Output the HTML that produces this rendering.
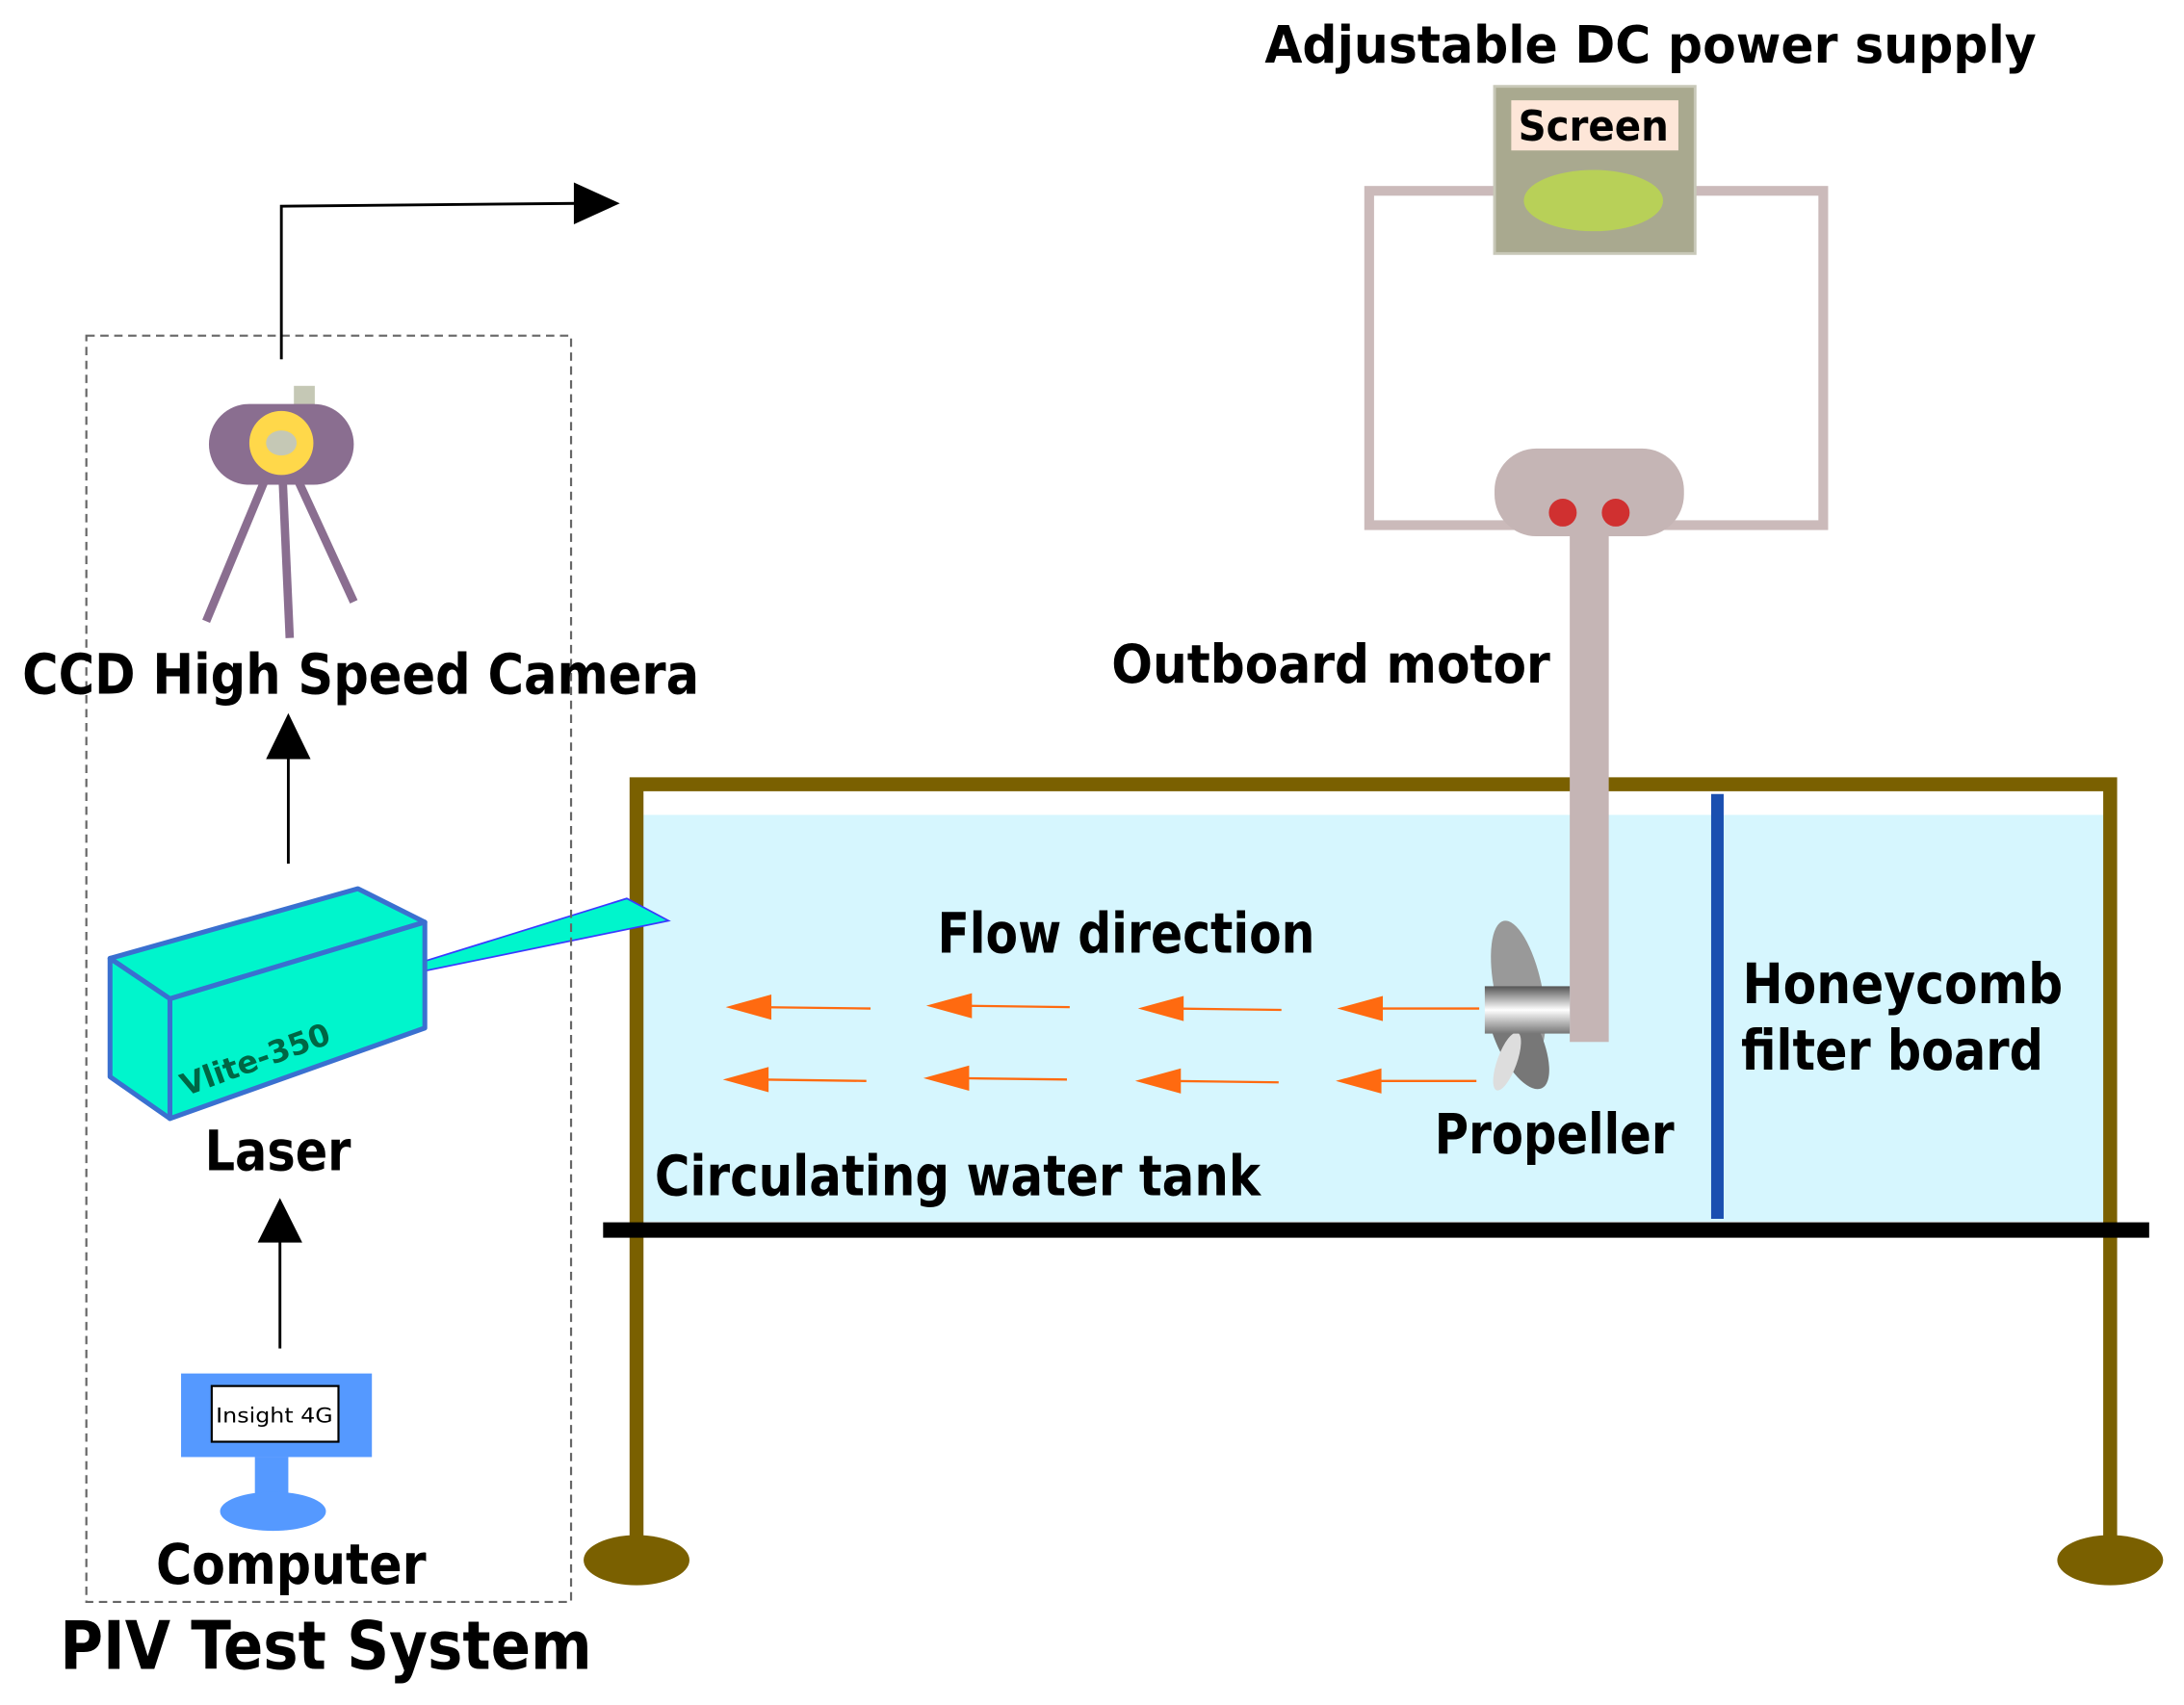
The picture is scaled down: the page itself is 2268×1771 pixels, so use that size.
<!DOCTYPE html>
<html><head><meta charset="utf-8"><style>html,body{margin:0;padding:0;background:#fff}svg{display:block}</style></head>
<body>
<svg width="2268" height="1771" viewBox="0 0 1568 1224" preserveAspectRatio="none" xmlns="http://www.w3.org/2000/svg" font-family="'DejaVu Sans','Liberation Sans',sans-serif">
<rect width="1568" height="1224" fill="#fff"/>
<!-- power supply -->
<text x="908" y="45" font-size="37" font-weight="bold" textLength="554" lengthAdjust="spacingAndGlyphs">Adjustable DC power supply</text>
<rect x="983" y="137" width="326" height="240" fill="none" stroke="#cbbaba" stroke-width="7"/>
<rect x="1073" y="62" width="144" height="120" fill="#a9a98f" stroke="#c8c8b8" stroke-width="2"/>
<rect x="1085" y="72" width="120" height="36" fill="#fde6d8"/>
<text x="1090" y="101" font-size="30" font-weight="bold" textLength="108" lengthAdjust="spacingAndGlyphs">Screen</text>
<ellipse cx="1144" cy="144" rx="50" ry="22" fill="#b8d058"/>
<text x="798" y="490" font-size="38" font-weight="bold" textLength="315" lengthAdjust="spacingAndGlyphs">Outboard motor</text>
<!-- tank -->
<rect x="462" y="585" width="1048" height="292" fill="#d6f6fe"/>
<path d="M457 1115 V563 H1515 V1115" fill="none" stroke="#7a6000" stroke-width="10"/>
<ellipse cx="457" cy="1120" rx="38" ry="18" fill="#7a6000"/>
<ellipse cx="1515" cy="1120" rx="38" ry="18" fill="#7a6000"/>
<rect x="1127" y="380" width="28" height="368" fill="#c5b5b5"/>
<rect x="1073" y="322" width="136" height="63" rx="30" fill="#c5b5b5"/>
<circle cx="1122" cy="368" r="10" fill="#d03030"/>
<circle cx="1160" cy="368" r="10" fill="#d03030"/>
<line x1="433" y1="883" x2="1543" y2="883" stroke="#000" stroke-width="11"/>
<line x1="1233" y1="570" x2="1233" y2="875" stroke="#1a4fb0" stroke-width="9"/>
<text x="1251" y="720" font-size="40" font-weight="bold" textLength="230" lengthAdjust="spacingAndGlyphs">Honeycomb</text>
<text x="1250" y="768" font-size="40" font-weight="bold" textLength="217" lengthAdjust="spacingAndGlyphs">filter board</text>
<text x="673" y="684" font-size="40" font-weight="bold" textLength="271" lengthAdjust="spacingAndGlyphs">Flow direction</text>
<text x="1030" y="828" font-size="40" font-weight="bold" textLength="172" lengthAdjust="spacingAndGlyphs">Propeller</text>
<text x="470" y="858" font-size="40" font-weight="bold" textLength="435" lengthAdjust="spacingAndGlyphs">Circulating water tank</text>
<g stroke="#ff6a10" stroke-width="1.6" fill="#ff6a10">
<line x1="625" y1="724" x2="545" y2="723"/><polygon points="524,723 553,715 553,731"/>
<line x1="768" y1="723" x2="690" y2="722"/><polygon points="668,722 697,714 697,730"/>
<line x1="920" y1="725" x2="842" y2="724"/><polygon points="820,724 849,716 849,732"/>
<line x1="1062" y1="724" x2="985" y2="724"/><polygon points="963,724 992,716 992,732"/>
<line x1="622" y1="776" x2="545" y2="775"/><polygon points="522,775 551,767 551,783"/>
<line x1="766" y1="775" x2="688" y2="774"/><polygon points="666,774 695,766 695,782"/>
<line x1="918" y1="777" x2="840" y2="776"/><polygon points="818,776 847,768 847,784"/>
<line x1="1060" y1="776" x2="985" y2="776"/><polygon points="962,776 991,768 991,784"/>
</g>
<!-- propeller -->
<defs><linearGradient id="pg" x1="0" y1="0" x2="0" y2="1"><stop offset="0" stop-color="#555"/><stop offset="0.5" stop-color="#fff"/><stop offset="1" stop-color="#777"/></linearGradient></defs>
<ellipse cx="1090" cy="710" rx="17" ry="50" fill="#999" transform="rotate(-12 1090 710)"/>
<ellipse cx="1090" cy="745" rx="16" ry="40" fill="#777" transform="rotate(-25 1090 745)"/>
<ellipse cx="1082" cy="762" rx="7" ry="22" fill="#ddd" transform="rotate(20 1082 762)"/>
<rect x="1066" y="708" width="61" height="34" fill="url(#pg)"/>
<!-- laser -->
<polygon points="305,690 450,645 480,661 305,697" fill="#00f5cc" stroke="#3a3aff" stroke-width="1.2"/>
<polygon points="79,688 257,638 305,662 122,717" fill="#00f5cc" stroke="#3a70d0" stroke-width="3.5" stroke-linejoin="round"/>
<polygon points="122,717 305,662 305,738 122,803" fill="#00f5cc" stroke="#3a70d0" stroke-width="3.5" stroke-linejoin="round"/>
<polygon points="79,688 122,717 122,803 79,773" fill="#00f5cc" stroke="#3a70d0" stroke-width="3.5" stroke-linejoin="round"/>
<text x="133" y="787" font-size="22" font-weight="bold" fill="#064" transform="rotate(-20 133 787)">Vlite-350</text>
<text x="147" y="840" font-size="40" font-weight="bold" textLength="105" lengthAdjust="spacingAndGlyphs">Laser</text>
<!-- dashed box -->
<rect x="62" y="241" width="348" height="909" fill="none" stroke="#666" stroke-width="1.5" stroke-dasharray="6,4"/>
<!-- arrows -->
<path d="M202 258 V148 L415 146" fill="none" stroke="#000" stroke-width="2"/>
<polygon points="412,131 445,146 412,161" fill="#000"/>
<line x1="207" y1="620" x2="207" y2="540" stroke="#000" stroke-width="2"/>
<polygon points="191,545 207,512 223,545" fill="#000"/>
<line x1="201" y1="968" x2="201" y2="888" stroke="#000" stroke-width="2"/>
<polygon points="185,892 201,860 217,892" fill="#000"/>
<!-- camera -->
<g stroke="#8a6e90" stroke-width="6"><line x1="190" y1="345" x2="148" y2="446"/><line x1="203" y1="345" x2="208" y2="458"/><line x1="214" y1="345" x2="254" y2="432"/></g>
<rect x="211" y="277" width="15" height="18" fill="#c5c8b5"/>
<rect x="150" y="290" width="104" height="58" rx="29" fill="#8a6e90"/>
<circle cx="202" cy="318" r="23" fill="#ffd84a"/>
<ellipse cx="202" cy="318" rx="11" ry="9" fill="#c5c8b5"/>
<text x="16" y="498" font-size="40" font-weight="bold" textLength="486" lengthAdjust="spacingAndGlyphs">CCD High Speed Camera</text>
<!-- computer -->
<rect x="130" y="986" width="137" height="60" fill="#5599ff"/>
<rect x="152" y="995" width="91" height="40" fill="#fff" stroke="#000" stroke-width="1.5"/>
<text x="155" y="1021" font-size="15" textLength="84" lengthAdjust="spacingAndGlyphs">Insight 4G</text>
<rect x="183" y="1046" width="24" height="30" fill="#5599ff"/>
<ellipse cx="196" cy="1085" rx="38" ry="14" fill="#5599ff"/>
<text x="112" y="1137" font-size="40" font-weight="bold" textLength="194" lengthAdjust="spacingAndGlyphs">Computer</text>
<text x="43" y="1198" font-size="48" font-weight="bold" textLength="382" lengthAdjust="spacingAndGlyphs">PIV Test System</text>
</svg>
</body></html>
